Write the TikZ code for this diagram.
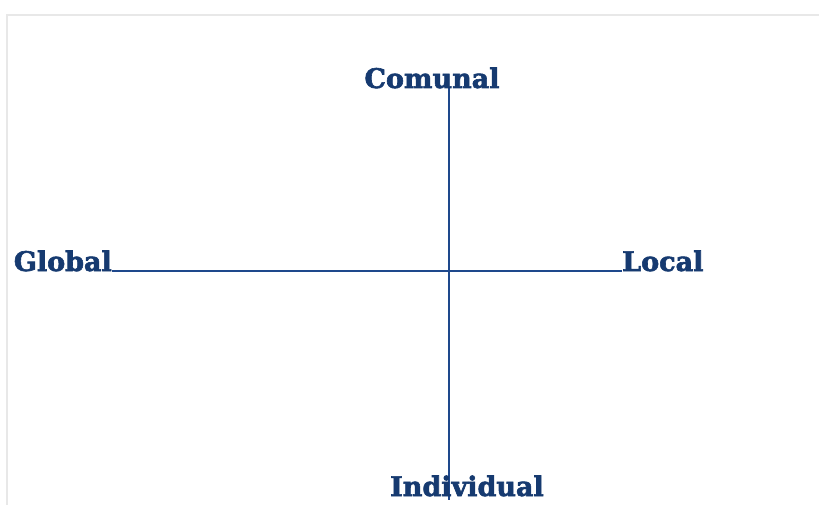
\documentclass[tikz,border=0pt]{standalone}
\usepackage{fontspec}
\setmainfont{DejaVu Serif}
\newfontfamily\slabfont[FakeBold=2.2]{DejaVu Serif Bold}
\usetikzlibrary{positioning,calc}
\definecolor{AxisBlue}{RGB}{30,72,140}
\definecolor{LabelBlue}{RGB}{22,58,112}
\definecolor{FrameGray}{RGB}{232,232,232}
\tikzset{
  axis/.style={draw=AxisBlue,line width=1.6pt},
  lbl/.style={font=\slabfont\fontsize{27}{29}\selectfont,text=LabelBlue,inner sep=0pt,anchor=base},
}
\begin{document}
\begin{tikzpicture}[x=1pt,y=-1pt]
            % canvas and faint slide frame
            \useasboundingbox (0,0) rectangle (819,505);
            \fill[white] (0,0) rectangle (819,505);
            \draw[FrameGray,line width=1.2pt] (7,505) -- (7,15) -- (819,15);

            % end points of the two axes
            \coordinate (top) at (449,88);
            \coordinate (bottom) at (449,500);
            \coordinate (west) at (112,271);
            \coordinate (east) at (622,271);

            \draw[axis] (top) -- (bottom);
            \draw[axis] (west) -- (east);

            \node[lbl] (comunal) at (432,88) {Comunal};
            \node[lbl, anchor=base east] (global) at (west) {Global};
            \node[lbl, anchor=base west] (local) at (east) {Local};
            \node[lbl] (individual) at (467,496) {Individual};
          \end{tikzpicture}
\end{document}
